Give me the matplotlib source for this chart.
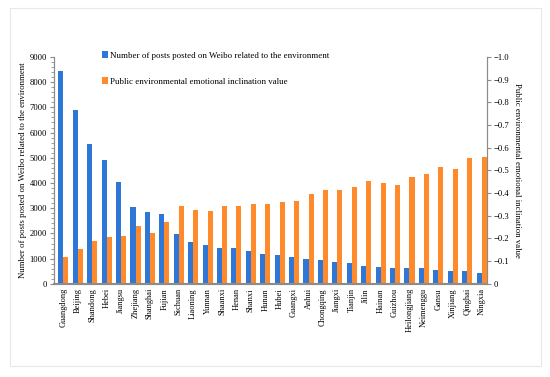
import numpy as np
import matplotlib.pyplot as plt
from matplotlib.ticker import MultipleLocator, FuncFormatter
from matplotlib.patches import Rectangle

plt.rcParams['font.family'] = ['Liberation Serif', 'DejaVu Serif']

provinces = ['Guangdong', 'Beijing', 'Shandong', 'Hebei', 'Jiangsu', 'Zhejiang', 'Shanghai',
             'Fujian', 'Sichuan', 'Liaoning', 'Yunnan', 'Shaanxi', 'Henan', 'Shanxi', 'Hunan',
             'Hubei', 'Guangxi', 'Anhui', 'Chongqing', 'Jiangxi', 'Tianjin', 'Jilin', 'Hainan',
             'Guizhou', 'Heilongjiang', 'Neimenggu', 'Gansu', 'Xinjiang', 'Qinghai', 'Ningxia']
posts = [8450, 6890, 5550, 4900, 4030, 3030, 2870, 2760, 1960, 1650, 1540, 1440, 1430, 1310, 1190,
         1150, 1080, 1000, 940, 875, 810, 715, 660, 625, 625, 620, 545, 505, 505, 440]
inclination = [-0.118, -0.153, -0.187, -0.207, -0.209, -0.257, -0.222, -0.273, -0.342, -0.326,
               -0.320, -0.345, -0.345, -0.351, -0.353, -0.361, -0.364, -0.398, -0.414, -0.414,
               -0.426, -0.455, -0.446, -0.437, -0.471, -0.483, -0.514, -0.507, -0.554, -0.561]

blue = '#2F77D6'
orange = '#FF8A2B'
grey = '#8c8c8c'

fig = plt.figure(figsize=(5.5, 3.77), dpi=100)
ax = fig.add_axes([0.098, 0.247, 0.787, 0.602])
ax2 = ax.twinx()

x = np.arange(len(provinces))
w = 0.35
b1 = ax.bar(x - w / 2, posts, w, color=blue, label='Number of posts posted on Weibo related to the environment')
b2 = ax2.bar(x + w / 2, inclination, w, color=orange, label='Public environmental emotional inclination value')

ax.set_xlim(-0.66, 29.36)
ax.set_ylim(0, 9000)
ax2.set_ylim(0, -1.0)

ax.yaxis.set_major_locator(MultipleLocator(1000))
ax.yaxis.set_minor_locator(MultipleLocator(200))
ax2.yaxis.set_major_locator(MultipleLocator(0.1))

def fmt_neg(v, pos):
    if abs(v) < 1e-9:
        return '0'
    return '\u2212%.1f' % abs(v)

ax2.yaxis.set_major_formatter(FuncFormatter(fmt_neg))

ax.set_xticks(x)
ax.set_xticklabels(provinces, rotation=90, fontsize=6)
ax.tick_params(axis='x', length=0, pad=3)
ax.tick_params(axis='y', which='major', labelsize=6.2, length=3, color=grey, pad=2)
ax.tick_params(axis='y', which='minor', length=2, color=grey)
ax2.tick_params(axis='y', labelsize=6.2, length=3, color=grey, pad=2)

for a in (ax, ax2):
    a.spines['top'].set_visible(False)
    a.spines['left'].set_color(grey)
    a.spines['right'].set_color(grey)
    a.spines['bottom'].set_color(grey)
    a.spines['bottom'].set_linewidth(1.5)
    a.set_facecolor('none')

ax.set_ylabel('Number of posts posted on Weibo related to the environment', fontsize=6.3, labelpad=2)
ax2.set_ylabel('Public environmental emotional inclination value', fontsize=6.3, rotation=-90, labelpad=8)

fig.legend(handles=[b1, b2], loc='upper left', bbox_to_anchor=(0.17, 0.885), frameon=False,
           fontsize=6.4, handlelength=0.7, handleheight=0.7, handletextpad=0.3, labelspacing=2.0)

fig.add_artist(Rectangle((0.018, 0.029), 0.966, 0.95, transform=fig.transFigure,
                         fill=False, edgecolor='#e8e8e8', linewidth=0.8))

fig.savefig('out.png', dpi=100)
